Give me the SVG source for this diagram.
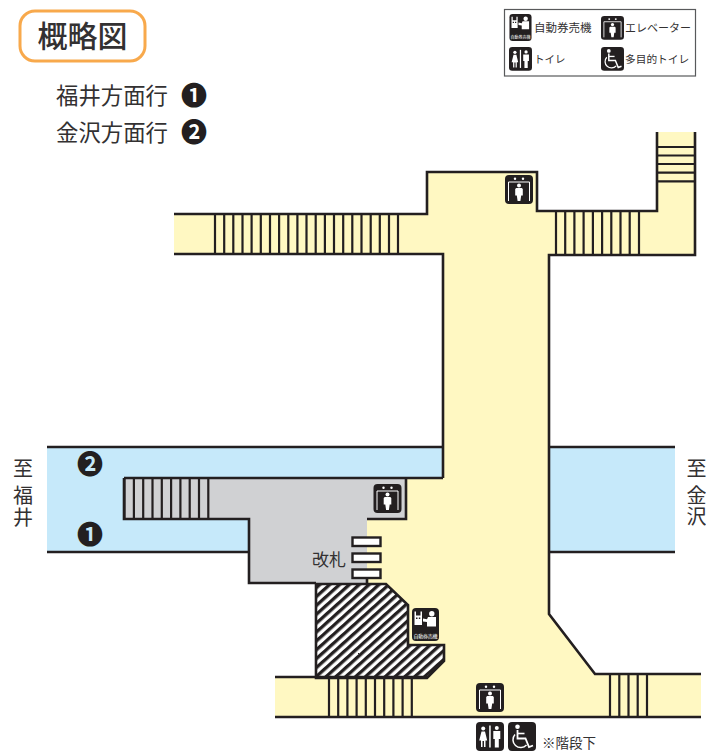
<svg xmlns="http://www.w3.org/2000/svg" xmlns:xlink="http://www.w3.org/1999/xlink" width="706" height="751" viewBox="0 0 706 751">
<style>
text{font-family:"Noto Sans CJK JP","Noto Sans",sans-serif;fill:#333132}
.w{fill:none;stroke:#231f20;stroke-width:2.6;stroke-linejoin:miter;stroke-linecap:butt}
.s{fill:none;stroke:#231f20;stroke-width:2.2}
.ic{fill:#231f20}
.wh{fill:#fff}
.wl{fill:none;stroke:#fff}
.dg{fill:#231f20;font-weight:700}
.v{writing-mode:vertical-rl;font-size:20px;letter-spacing:1.500px}
text.r{font-family:"Liberation Sans","Noto Sans CJK JP",sans-serif}
</style>
<defs>
<pattern id="hatch" width="6.600" height="6.600" patternUnits="userSpaceOnUse" patternTransform="rotate(-42)">
<rect width="6.600" height="6.600" fill="#fff"/><rect width="6.600" height="3.300" fill="#231f20"/>
</pattern>
<symbol id="ev" viewBox="0 0 28 29" overflow="visible">
<rect width="28" height="29" rx="4" class="ic"/>
<path class="wl" stroke-width="1" d="M3.500 26V7H24.500V26"/>
<circle cx="10" cy="3.800" r="1.200" class="wh"/><circle cx="18" cy="3.800" r="1.200" class="wh"/>
<circle cx="14" cy="10.400" r="2" class="wh"/>
<path class="wh" d="M11.200 13H16.800L17.800 14V20.500H16.200L15.400 26H12.600L11.800 20.500H10.200V14Z"/>
</symbol>
<symbol id="wc" viewBox="0 0 28 29" overflow="visible">
<rect width="28" height="29" rx="4" class="ic"/>
<circle cx="9.500" cy="4.800" r="2.300" class="wh"/>
<path class="wl" stroke-width="1.800" d="M9.500 8V16.500H17.500L21 25L25 23.500"/>
<path class="wl" stroke-width="1.600" d="M9.500 11.500H16.500"/>
<path class="wl" stroke-width="1.500" d="M7 12.500A7.500 7.500 0 1 0 18.500 23"/>
</symbol>
<symbol id="to" viewBox="0 0 28 29" overflow="visible">
<rect width="28" height="29" rx="4" class="ic"/>
<rect x="13.200" y="3.500" width="1.500" height="22" class="wh"/>
<circle cx="7.200" cy="6.500" r="2" class="wh"/>
<path class="wh" d="M5.500 9.500H9L11.200 18.500H9.500V25H8V19H6.500V25H5V18.500H3.200Z"/>
<circle cx="20.800" cy="6" r="2" class="wh"/>
<path class="wh" d="M17.300 9H24.300V17H22.800V25.500H18.800V17H17.300Z"/>
</symbol>
<symbol id="vm" viewBox="0 0 27 33" overflow="visible">
<rect width="27" height="33" rx="4" class="ic"/>
<path class="wh" d="M2.500 3.500H4V7.500H8.500V3.500H10V17H2.500Z"/>
<rect x="4" y="9.500" width="1.500" height="1.500" class="ic"/><rect x="6.800" y="9.500" width="1.500" height="1.500" class="ic"/>
<circle cx="19.800" cy="5.800" r="2.700" class="wh"/>
<path class="wh" d="M16 9H24V18.500H15V14L11 13.500V10.500L15 11.200Z"/>
</symbol>
</defs>

<g id="title"><rect x="20" y="11" width="125" height="50" rx="15" fill="#fff" stroke="#f8a94c" stroke-width="3"/>
<text x="82.500" y="47" font-size="30" font-weight="500" text-anchor="middle">概略図</text></g>

<g id="directions">
<text x="56" y="104" font-size="22.400">福井方面行</text><text x="194" y="105" font-size="26" text-anchor="middle" class="dg" style="fill:#231f20">❶</text>
<text x="56" y="141" font-size="22.400">金沢方面行</text><text x="194" y="142" font-size="26" text-anchor="middle" class="dg" style="fill:#231f20">❷</text>
</g>

<g id="legend">
<rect x="504.500" y="9.500" width="191" height="66.500" fill="#fff" stroke="#58595b" stroke-width="1.200"/>
<use xlink:href="#vm" href="#vm" x="509" y="14" width="23" height="27"/>
<text x="510.500" y="38.500" font-size="4" style="fill:#fff" textLength="20">自動券売機</text>
<text x="534" y="32" font-size="11.500">自動券売機</text>
<use xlink:href="#ev" href="#ev" x="601" y="16" width="23" height="23.800"/>
<text x="625" y="32" font-size="11">エレベーター</text>
<use xlink:href="#to" href="#to" x="509" y="47" width="23" height="23.800"/>
<text x="534" y="63" font-size="10.500">トイレ</text>
<use xlink:href="#wc" href="#wc" x="601" y="47" width="23" height="23.800"/>
<text x="625" y="63" font-size="10.700">多目的トイレ</text>
</g>

<g id="tracks">
<rect x="47" y="447" width="396" height="105" fill="#c6e9fa"/>
<rect x="549" y="447" width="126" height="105" fill="#c6e9fa"/>
</g>

<g id="concourse">
<path fill="#fff8c2" d="M174 214H427V172H537V211H657V132H695V255H549V614L595 674H701V717H275V677H316V583H367V519H406V478H443V254H174Z"/>
<path fill="#d0d1d3" d="M124 478H406V519H367V583H249V519H124Z"/>
<path fill="url(#hatch)" d="M316 584H386L408 605V645H444V661L427 678H316Z"/>
</g>

<g id="connectors">
<path class="w" d="M174 214H427V172H537V211H657V132M695 132V255H549V614L595 674H701M174 254H443V478"/>
<path class="w" d="M47 447H443M549 447H675M47 552H249M549 552H675"/>
<path class="w" d="M124 478H406V519H367M124 478V519H249V583H316M406 478H443"/>
<path class="w" d="M316 584H386L408 605V645H444V661L427 678H316V584"/>
<path class="w" d="M275 677H427" />
<path class="w" d="M275 717H701" stroke-width="3"/>
<path class="w" d="M367 577V584"/>
</g>

<g id="stairs">
<path class="s" d="M215 214V254M224.200 214V254M233.300 214V254M242.500 214V254M251.600 214V254M260.800 214V254M270 214V254M279.100 214V254M288.300 214V254M297.400 214V254M306.500 214V254M315.700 214V254M324.900 214V254M334 214V254M343.200 214V254M352.300 214V254M361.500 214V254M370.700 214V254M379.800 214V254M389 214V254M398 214V254"/>
<path class="s" d="M556 211V255M565.200 211V255M574.400 211V255M583.600 211V255M592.900 211V255M602.100 211V255M611.300 211V255M620.500 211V255M629.700 211V255M639 211V255"/>
<path class="s" d="M657 147H695M657 155.500H695M657 164H695M657 172.700H695M657 181.300H695"/>
<path class="s" d="M124.500 478V519M133.900 478V519M143.200 478V519M152.500 478V519M161.800 478V519M171.100 478V519M180.400 478V519M189.700 478V519M199 478V519M208.300 478V519"/>
<path class="s" d="M329 677V717M338.200 677V717M347.400 677V717M356.600 677V717M365.800 677V717M375 677V717M384.200 677V717M393.400 677V717M402.600 677V717M411.800 677V717"/>
<path class="s" d="M610 674V717M619.300 674V717M628.500 674V717M637.700 674V717M647 674V717"/>
</g>

<g id="gates" fill="#fff" stroke="#231f20" stroke-width="2.400">
<rect x="352.500" y="537.500" width="28" height="8.500"/>
<rect x="352.500" y="553.500" width="28" height="8.500"/>
<rect x="352.500" y="569.500" width="28" height="8.500"/>
</g>

<g id="labels">
<text x="312" y="566" font-size="17">改札</text>
<text class="v" x="23" y="458">至</text><text class="v" x="23" y="485.500">福井</text>
<text class="v r" x="695" y="458">至</text><text class="v r" x="695" y="485">金沢</text>
<text x="90" y="474" font-size="26" text-anchor="middle" class="dg" style="fill:#231f20">❷</text>
<text x="90" y="544" font-size="26" text-anchor="middle" class="dg" style="fill:#231f20">❶</text>
<text x="542" y="748" font-size="13.500">※階段下</text>
</g>

<g id="elevator-top"><use xlink:href="#ev" href="#ev" x="505" y="175" width="28" height="29"/></g>
<g id="elevator-platform"><use xlink:href="#ev" href="#ev" x="373" y="484" width="29" height="29"/></g>
<g id="elevator-bottom"><use xlink:href="#ev" href="#ev" x="476" y="683" width="28" height="29"/></g>
<g id="toilet"><use xlink:href="#to" href="#to" x="476" y="722" width="28" height="29"/></g>
<g id="accessible-toilet"><use xlink:href="#wc" href="#wc" x="508" y="722" width="28" height="29"/></g>
<g id="ticket-machine"><use xlink:href="#vm" href="#vm" x="412" y="608" width="27" height="33"/>
<text x="413.500" y="638" font-size="5" style="fill:#fff" textLength="24">自動券売機</text></g>
</svg>
